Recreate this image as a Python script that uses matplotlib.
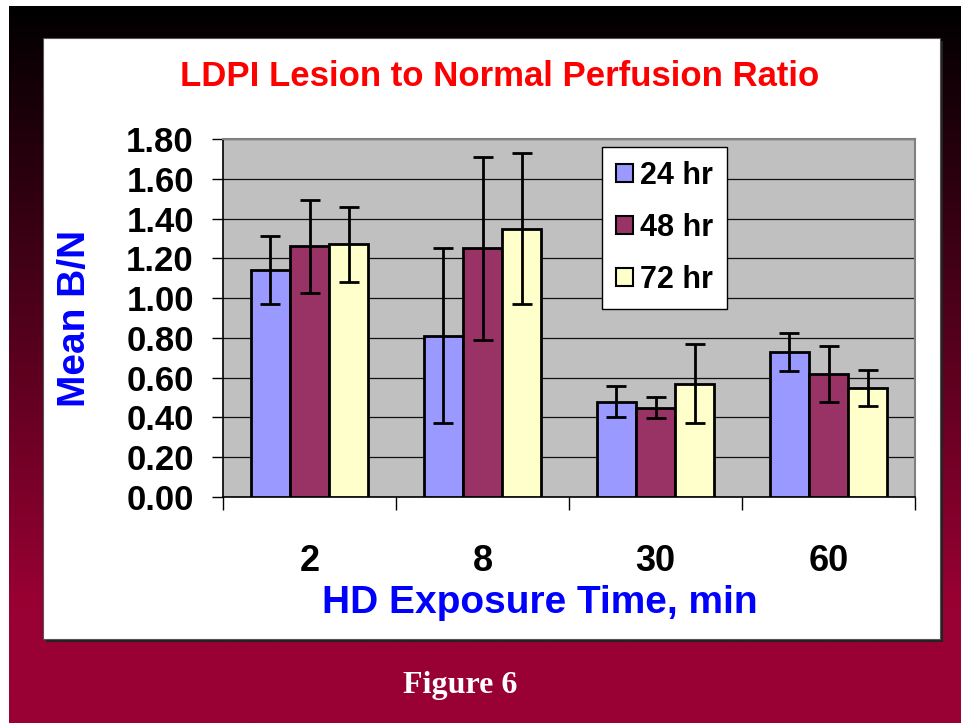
import numpy as np
import matplotlib
matplotlib.use("Agg")
import matplotlib.pyplot as plt
from matplotlib.patches import Rectangle, Patch
from matplotlib.colors import to_rgb

# data
times = ["2", "8", "30", "60"]
series = ["24 hr", "48 hr", "72 hr"]
mean_24 = [1.14, 0.81, 0.48, 0.73]
mean_48 = [1.26, 1.25, 0.45, 0.62]
mean_72 = [1.27, 1.35, 0.57, 0.55]
err_24 = [0.17, 0.44, 0.08, 0.095]
err_48 = [0.235, 0.46, 0.055, 0.14]
err_72 = [0.19, 0.38, 0.20, 0.09]
colors = ["#9999FF", "#993366", "#FFFFCC"]

W, H = 961, 723
fig = plt.figure(figsize=(W / 100, H / 100), dpi=100)

# slide background: black -> crimson gradient with white panel
bg = fig.add_axes([0, 0, 1, 1])
bg.axis("off")
top_c = np.array(to_rgb("#000000"))
bot_c = np.array(to_rgb("#990033"))
yy = np.linspace(0, 1, 300)
frac = np.clip(yy * (H - 6) / 600.0, 0, 1)
grad = top_c[None, :] * (1 - frac[:, None]) + bot_c[None, :] * frac[:, None]
grad = np.repeat(grad[:, None, :], 2, axis=1)
bg.imshow(grad, extent=[9, W, H, 6], aspect="auto", interpolation="bilinear")
bg.add_patch(Rectangle((46, 41), 897, 601, facecolor="#222222", edgecolor="none"))
bg.add_patch(Rectangle((43, 38), 897, 601, facecolor="white", edgecolor="#555555", lw=0.8))
bg.set_xlim(0, W)
bg.set_ylim(H, 0)

ax = fig.add_axes([223 / W, (H - 497) / H, 692 / W, 358 / H])
ax.set_facecolor("#C0C0C0")

x = np.arange(len(times))
bw = 0.227
means = [mean_24, mean_48, mean_72]
errs = [err_24, err_48, err_72]
for i in range(3):
    xpos = x + (i - 1) * bw
    ax.bar(xpos, means[i], width=bw, color=colors[i], edgecolor="black", linewidth=2.0, zorder=3)
    ax.errorbar(xpos, means[i], yerr=errs[i], fmt="none", ecolor="black",
                elinewidth=2.0, capsize=7, capthick=2.0, zorder=4)

ax.set_ylim(0, 1.8)
ax.set_xlim(-0.5, 3.5)
ax.set_yticks(np.arange(0, 1.81, 0.2))
ax.set_yticklabels([f"{v:.2f}" for v in np.arange(0, 1.81, 0.2)])
ax.yaxis.grid(True, color="#111111", lw=0.9)
ax.set_axisbelow(True)

ax.set_xticks(np.arange(-0.5, 3.6, 1))
ax.set_xticklabels([])
ax.set_xticks(x, minor=True)
ax.set_xticklabels(times, minor=True)
ax.tick_params(axis="x", which="major", direction="out", length=9, width=1, color="black")
ax.tick_params(axis="x", which="minor", length=0, pad=34, labelsize=26)
ax.tick_params(axis="y", direction="out", length=8, width=1, pad=13, labelsize=25)
for lab in ax.get_xticklabels(minor=True) + ax.get_yticklabels():
    lab.set_fontweight("bold")
    lab.set_fontfamily("Liberation Sans")

for s in ["top", "right"]:
    ax.spines[s].set_color("#808080")
    ax.spines[s].set_linewidth(1.5)
for s in ["left", "bottom"]:
    ax.spines[s].set_color("black")
    ax.spines[s].set_linewidth(1.2)

handles = [Patch(facecolor=colors[i], edgecolor="black", lw=1.5, label=series[i]) for i in range(3)]
leg = ax.legend(handles=handles, loc="upper left", bbox_to_anchor=(379 / 692, 1 - 8 / 358),
                prop={"family": "Liberation Sans", "weight": "bold", "size": 22},
                frameon=True, fancybox=False, edgecolor="black", framealpha=1,
                handlelength=0.55, handleheight=0.55, handletextpad=0.25,
                labelspacing=0.72, borderpad=0.45, borderaxespad=0)
leg.get_frame().set_linewidth(1.0)

fig.text(500 / W, 1 - 77 / H, "LDPI Lesion to Normal Perfusion Ratio", color="#FF0000",
         fontsize=25, fontweight="bold", family="Liberation Sans", ha="center", va="center")
fig.text(75 / W, 1 - 318 / H, "Mean B/N", color="#0000FF", rotation=90,
         fontsize=28, fontweight="bold", family="Liberation Sans", ha="center", va="center")
fig.text(540 / W, 1 - 603 / H, "HD Exposure Time, min", color="#0000FF",
         fontsize=28, fontweight="bold", family="Liberation Sans", ha="center", va="center")
fig.text(460 / W, 1 - 685 / H, "Figure 6", color="white",
         fontsize=23, fontweight="bold", family="Liberation Serif", ha="center", va="center")

fig.savefig("out.png", dpi=100)
